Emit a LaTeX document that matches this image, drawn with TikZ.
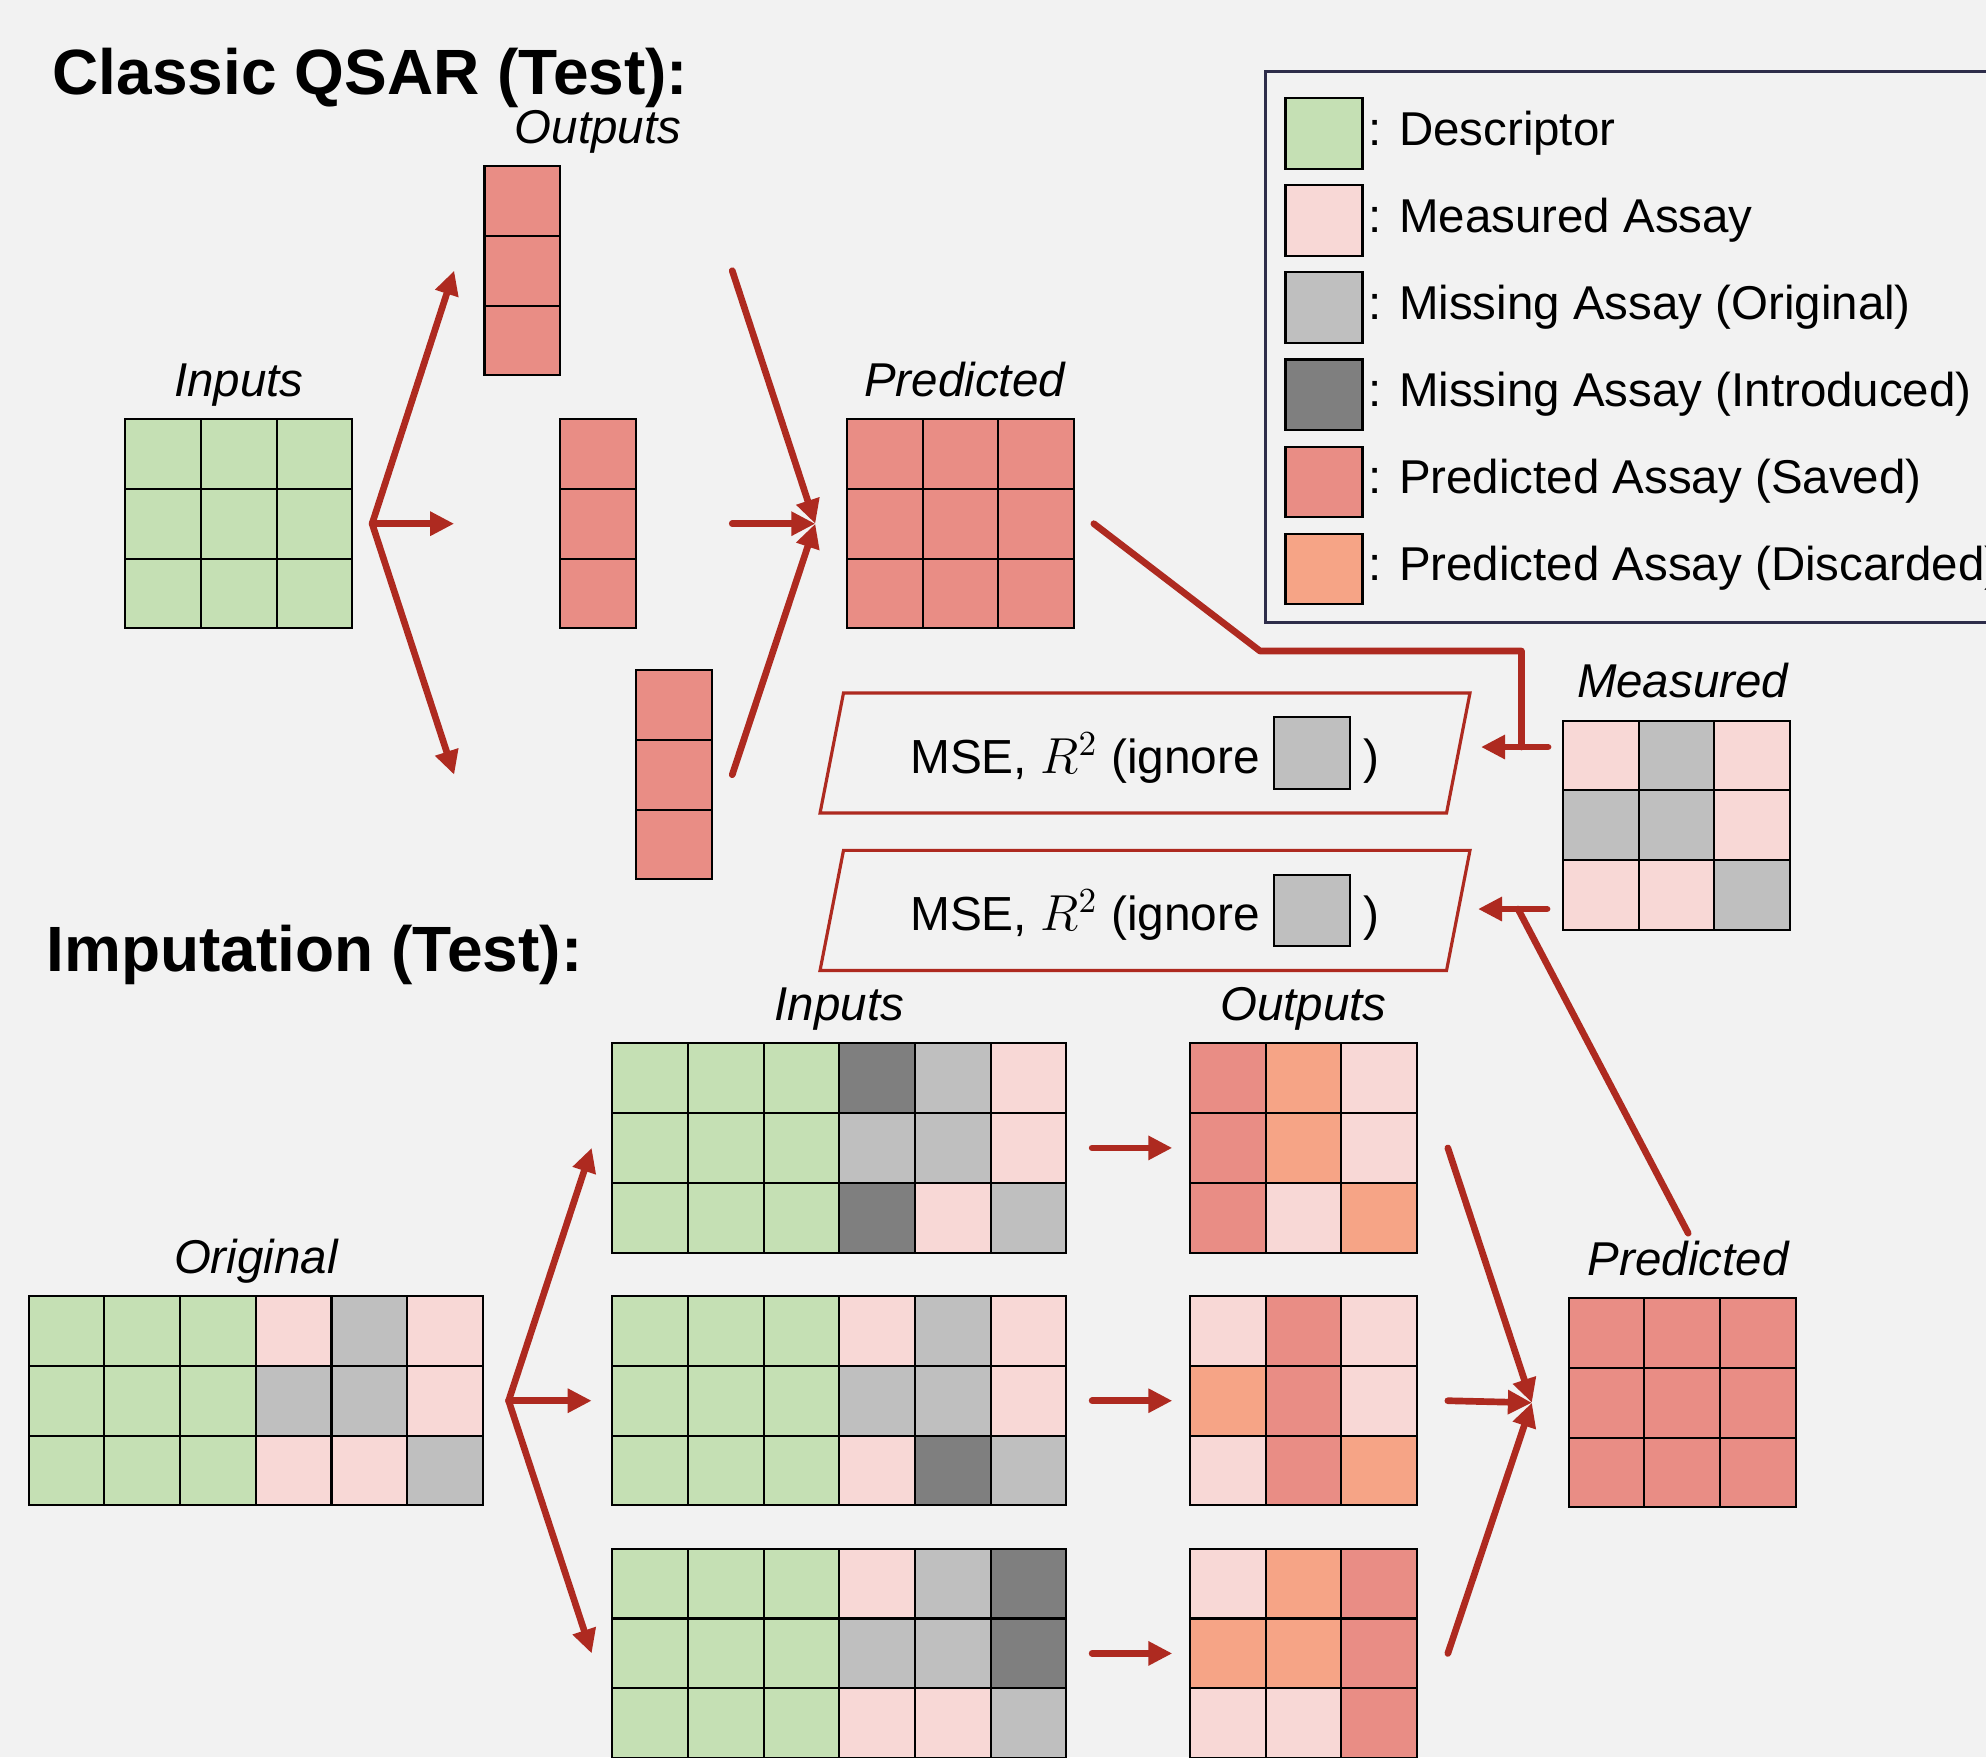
\documentclass[tikz,border=0pt]{standalone}
\usepackage{fontspec}
\setmainfont{Liberation Sans}
\usetikzlibrary{arrows.meta,fit,shapes.geometric,positioning}

\definecolor{pagebg}{HTML}{F2F2F2}
\definecolor{desc}{HTML}{C5E0B4}
\definecolor{meas}{HTML}{F8D8D6}
\definecolor{miss}{HTML}{BFBFBF}
\definecolor{intro}{HTML}{7F7F7F}
\definecolor{saved}{HTML}{E98D85}
\definecolor{disc}{HTML}{F6A486}
\definecolor{arrowred}{HTML}{AE2A20}
\definecolor{keyline}{HTML}{2E2D4A}

\def\cw{75.7}
\def\ch{69.8}

\tikzset{
  cell/.style={draw=black, line width=0.6pt},
  flow/.style={draw=arrowred, line width=1.9pt, line cap=round, -{Triangle[length=0.24cm,width=0.23cm]}},
  link/.style={draw=arrowred, line width=1.9pt, line cap=round, line join=round},
  lab/.style={font=\fontsize{13.5}{16}\selectfont\itshape, anchor=base, inner sep=0pt},
  heading/.style={font=\fontsize{18.2}{22}\selectfont\bfseries, anchor=base west, inner sep=0pt},
  msebox/.style={trapezium, draw=arrowred, line width=0.9pt, trapezium left angle=76, trapezium right angle=104,
    trapezium stretches=true, minimum width=6.5cm, minimum height=1.2cm, inner sep=0pt,
    font=\fontsize{13.6}{17}\selectfont},
  swatch/.style={cell, minimum width=0.77cm, minimum height=0.705cm, inner sep=0pt},
  keytext/.style={font=\fontsize{13.5}{16}\selectfont, anchor=base west, inner sep=0pt},
}

% grid of assay cells: name, left, top, rows of colours
\newcommand{\assaygrid}[4]{%
  \foreach \rowcols [count=\r] in {#4} {%
    \foreach \c [count=\k] in \rowcols {%
      \draw[cell, fill=\c] ({#2+(\k-1)*\cw},{#3+(\r-1)*\ch}) rectangle ++(\cw,\ch) coordinate (#1-se);
    }
  }
  \coordinate (#1-nw) at (#2,#3);
  \node[fit=(#1-nw)(#1-se), inner sep=0pt] (#1) {};
}
\newcommand{\ignorebox}{\raisebox{-0.14cm}{\setlength{\fboxsep}{0pt}\setlength{\fboxrule}{0.6pt}%
  \fcolorbox{black}{miss}{\rule{0pt}{0.69cm}\hspace{0.73cm}}}}

\begin{document}
\begin{tikzpicture}[x=0.01cm, y=-0.01cm]
		%%%%% START %%%%%
		
		\useasboundingbox (0,0) rectangle (1986,1757);
		\clip (0,0) rectangle (1986,1757);
		\fill[pagebg] (0,0) rectangle (1986,1757);
		
		\node[heading] (qsartitle) at (52,94.5) {Classic QSAR (Test):};
		\node[heading] (imptitle) at (46,971) {Imputation (Test):};
		
		% legend
		\draw[keyline, line width=1pt] (1265.4,71.3) rectangle (2050,622.7);
		\foreach \col/\txt [count=\i] in {desc/Descriptor, meas/Measured Assay, miss/Missing Assay (Original),
		    intro/Missing Assay (Introduced), saved/Predicted Assay (Saved), disc/Predicted Assay (Discarded)} {
			\node[swatch, fill=\col] (key\i) at (1324,{133.5+(\i-1)*87.1}) {};
			\node[keytext] (keytxt\i) at ([xshift=0.04cm,yshift=-0.115cm]key\i.east) {: \txt};
		}
		
		% classic QSAR
		\assaygrid{qin}{125.3}{419}{{desc,desc,desc},{desc,desc,desc},{desc,desc,desc}}
		\assaygrid{qout1}{484.5}{166}{saved,saved,saved}
		\assaygrid{qout2}{560.2}{419}{saved,saved,saved}
		\assaygrid{qout3}{636}{670}{saved,saved,saved}
		\assaygrid{qpred}{847}{419}{{saved,saved,saved},{saved,saved,saved},{saved,saved,saved}}
		
		\node[lab] (qinlab) at ([yshift=0.22cm]qin.north) {Inputs};
		\node[lab] (qoutlab) at ([yshift=0.22cm]qout1.north -| qout2.north) {Outputs};
		\node[lab] (qpredlab) at ([xshift=0.04cm,yshift=0.22cm]qpred.north) {Predicted};
		
		\coordinate (qfork) at ([xshift=0.19cm]qin.east);
		\coordinate (qtip) at ([xshift=0.82cm]qfork);
		\coordinate (qjoin) at ([xshift=-0.31cm]qpred.west);
		\coordinate (qfeed) at ([xshift=-0.83cm]qjoin);
		\foreach \i in {1,2,3} {
			\draw[flow] (qfork) -- (qout\i.west -| qtip);
			\draw[flow] (qout\i.east -| qfeed) -- (qjoin);
		}
		
		% measured and scores
		\assaygrid{meas}{1563}{720.6}{{meas,miss,meas},{miss,miss,meas},{meas,meas,miss}}
		\node[lab] (measlab) at ([xshift=0.06cm,yshift=0.22cm]meas.north) {Measured};
		
		\node[msebox] (mse1) at (1145,753) {MSE, $R^2$ (ignore \ignorebox{} )};
		\node[msebox] (mse2) at (1145,910.4) {MSE, $R^2$ (ignore \ignorebox{} )};
		
		\coordinate (mtail1) at (1548,747);
		\coordinate (mtip1) at (1481,747);
		\coordinate (mtail2) at (1547,909);
		\coordinate (mtip2) at (1478,909);
		\draw[flow] (mtail1) -- (mtip1);
		\draw[flow] (mtail2) -- (mtip2);
		
		\coordinate (qlink) at ([xshift=0.19cm]qpred.east);
		\coordinate (bend1) at (1260,651);
		\coordinate (bend2) at (1521.5,651);
		\coordinate (meet1) at (1521.5,747);
		\draw[link] (qlink) -- (bend1) -- (bend2) -- (meet1);
		
		% imputation
		\assaygrid{iorig}{28.7}{1296}{{desc,desc,desc,meas,miss,meas},{desc,desc,desc,miss,miss,meas},{desc,desc,desc,meas,meas,miss}}
		\assaygrid{iin1}{612.2}{1043.2}{{desc,desc,desc,intro,miss,meas},{desc,desc,desc,miss,miss,meas},{desc,desc,desc,intro,meas,miss}}
		\assaygrid{iin2}{612.2}{1296}{{desc,desc,desc,meas,miss,meas},{desc,desc,desc,miss,miss,meas},{desc,desc,desc,meas,intro,miss}}
		\assaygrid{iin3}{612.2}{1548.7}{{desc,desc,desc,meas,miss,intro},{desc,desc,desc,miss,miss,intro},{desc,desc,desc,meas,meas,miss}}
		\assaygrid{iout1}{1190}{1043.2}{{saved,disc,meas},{saved,disc,meas},{saved,meas,disc}}
		\assaygrid{iout2}{1190}{1296}{{meas,saved,meas},{disc,saved,meas},{meas,saved,disc}}
		\assaygrid{iout3}{1190}{1548.7}{{meas,disc,saved},{disc,disc,saved},{meas,meas,saved}}
		\assaygrid{ipred}{1568.6}{1298}{{saved,saved,saved},{saved,saved,saved},{saved,saved,saved}}
		
		\node[lab] (iseplab) at ([yshift=0.22cm]iorig.north) {Original};
		\node[lab] (iinlab) at ([yshift=0.22cm]iin1.north) {Inputs};
		\node[lab] (ioutlab) at ([yshift=0.22cm]iout1.north) {Outputs};
		\node[lab] (ipredlab) at ([xshift=0.06cm,yshift=0.22cm]ipred.north) {Predicted};
		
		\coordinate (ifork) at ([xshift=0.25cm]iorig.east);
		\coordinate (itip) at ([xshift=0.83cm]ifork);
		\coordinate (ijoin) at ([xshift=-0.36cm]ipred.west);
		\coordinate (ifeed) at ([xshift=-0.84cm]ijoin);
		\foreach \i in {1,2,3} {
			\draw[flow] (ifork) -- (iin\i.west -| itip);
			\draw[flow, shorten <=0.25cm, shorten >=0.17cm] (iin\i) -- (iout\i);
			\draw[flow] (iout\i.east -| ifeed) -- (ijoin);
		}
		
		\coordinate (ilink) at ([yshift=0.07cm]ipredlab.north);
		\coordinate (meet2) at (1518,909);
		\draw[link] (ilink) -- (meet2);
		
		%%%%% END %%%%%
\end{tikzpicture}
\end{document}
